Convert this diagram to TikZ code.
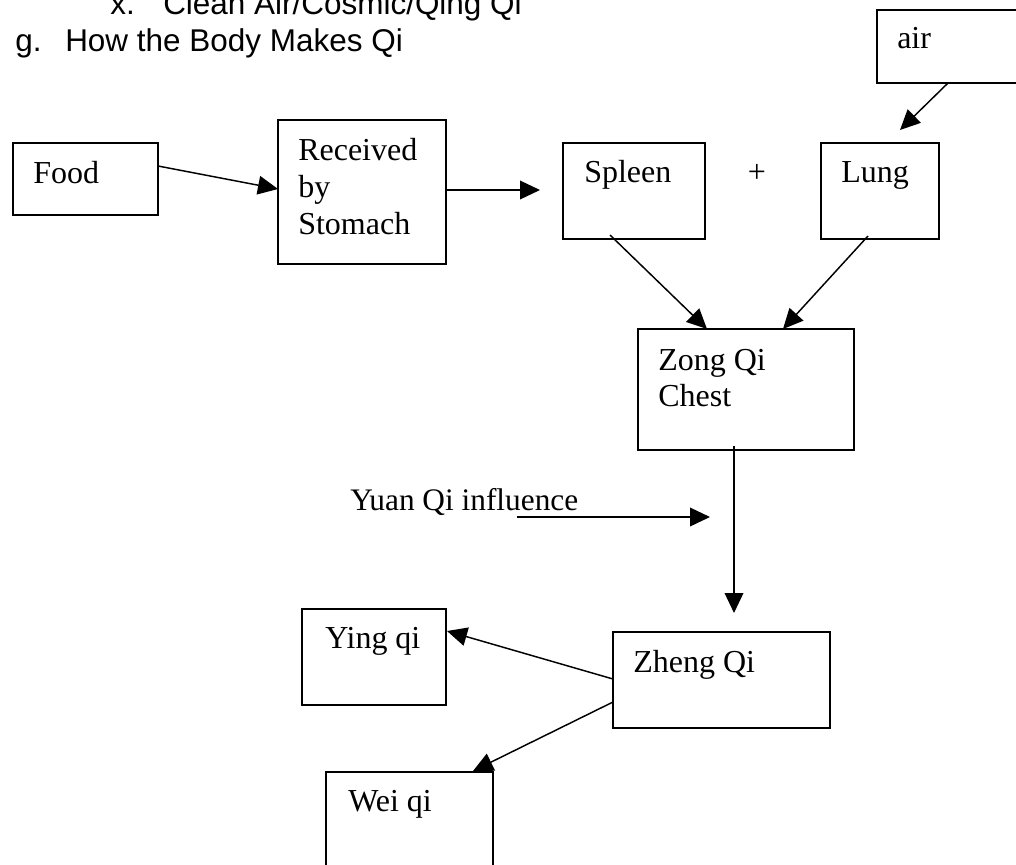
\documentclass[tikz,border=0pt]{standalone}
\usepackage{fontspec}
\setmainfont{Liberation Serif}
\newfontfamily\arialfont{Liberation Sans}
\usetikzlibrary{arrows.meta,fit,calc}
\begin{document}
\begin{tikzpicture}[x=0.75pt,y=-0.75pt,
  box/.style={draw, line width=1.4pt, inner sep=0pt, outer sep=0pt},
  arr/.style={line width=1.1pt, -{Triangle[length=15pt,width=14pt]}},
  hdr/.style={font=\arialfont\fontsize{23.6pt}{28pt}\selectfont, anchor=base west, inner sep=0pt},
  lbl/.style={font=\fontsize{24pt}{28pt}\selectfont, anchor=base west, inner sep=0pt},
  yuanlbl/.style={font=\fontsize{23.5pt}{28pt}\selectfont, anchor=base west, inner sep=0pt}]
\useasboundingbox (0,0) rectangle (1016,864);
\clip (0,0) rectangle (1016,864);
\fill[white] (0,0) rectangle (1016,864);

% header
\node[hdr] (hx) at (110,14) {x.};
\node[hdr] (hxt) at (163,14) {Clean Air/Cosmic/Qing Qi};
\node[hdr] (hg) at (15,51) {g.};
\node[hdr] (hgt) at (65,51) {How the Body Makes Qi};

% boxes
\node[box, fit={(13,143) (158,215)}] (food) {};
\node[box, fit={(278,120) (446,264)}] (stomach) {};
\node[box, fit={(563,143) (705,239)}] (spleen) {};
\node[box, fit={(821,143) (939,239)}] (lung) {};
\node[box, fit={(877,10) (1030,83)}] (air) {};
\node[box, fit={(638,329) (854,450)}] (zong) {};
\node[box, fit={(613,632) (830,728)}] (zheng) {};
\node[box, fit={(302,609) (446,705)}] (ying) {};
\node[box, fit={(326,772) (493,880)}] (wei) {};

% labels
\node[lbl] (tfood) at (33,183) {Food};
\node[lbl] (tst1) at (298,160) {Received};
\node[lbl] (tst2) at (298,197) {by};
\node[lbl] (tst3) at (298,234) {Stomach};
\node[lbl] (tspleen) at (584,182) {Spleen};
\node[lbl, anchor=base] (tplus) at (757,182) {+};
\node[lbl] (tlung) at (841,182) {Lung};
\node[lbl] (tair) at (897,48) {air};
\node[lbl] (tzong1) at (658,370) {Zong Qi};
\node[lbl] (tzong2) at (658,406) {Chest};
\node[lbl] (tzheng) at (633,672) {Zheng Qi};
\node[lbl] (tying) at (325,648) {Ying qi};
\node[lbl] (twei) at (348,811) {Wei qi};
\node[yuanlbl] (yuan) at (350,510) {Yuan Qi influence};
\coordinate (yuanend) at (710,517);

% connectors
\draw[arr] ($(food.north east)+(0,23)$) -- ($(stomach.north west)+(0,69)$);
\draw[arr] ($(stomach.north east)+(0,70)$) -- ($(spleen.west)+(-23,-1)$);
\draw[arr] ($(air.south west)+(71,0)$) -- ($(lung.north)+(20,-13)$);
\draw[arr] ($(spleen.south west)+(47,-4)$) -- ($(zong.north west)+(69,0)$);
\draw[arr] ($(lung.south west)+(47,-3)$) -- ($(zong.north west)+(145,0)$);
\draw[arr] ($(zong.south west)+(96,-4)$) -- ($(zheng.north west)+(121,-19)$);
\draw[arr] ($(yuan.base west)+(167,7)$) -- (yuanend);
\draw[arr] ($(zheng.north west)+(0,47)$) -- ($(ying.north east)+(1,22)$);
\draw[arr] ($(zheng.north west)+(0,70)$) -- ($(wei.north east)+(-20,-1)$);
\end{tikzpicture}
\end{document}
